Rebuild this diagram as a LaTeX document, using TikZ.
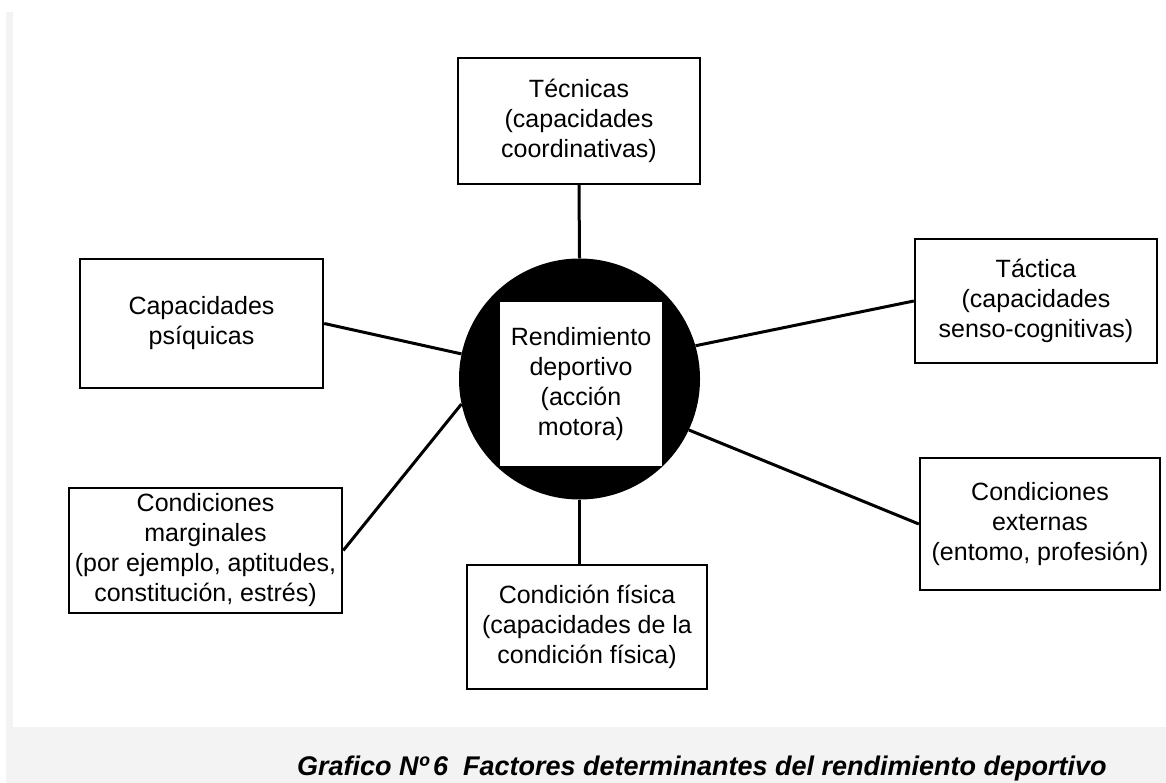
\documentclass[tikz,border=0pt]{standalone}
\usepackage{fontspec}
\setmainfont{Liberation Sans}
\usetikzlibrary{positioning}

\begin{document}
\begin{tikzpicture}[x=1pt,y=-1pt]
	\tikzstyle{factor} = [draw=black,line width=2.4pt,fill=white,align=center,inner sep=0pt,font=\fontsize{25}{30}\selectfont]
	\tikzstyle{link} = [line width=3pt]
	\definecolor{marco}{RGB}{243,243,243}
	% page
	\useasboundingbox (0,0) rectangle (1166,783);
	\fill[white] (0,0) rectangle (1166,783);
	\fill[marco] (6,12) rectangle (13,727);
	\fill[marco] (6,727) rectangle (1166,783);
	% centre
	\node[circle,fill=black,minimum size=241pt,inner sep=0pt] (rend) at (579.5,379) {};
	\node[factor,draw=none,minimum width=162pt,minimum height=164pt] (rendbox) at (581,384) {Rendimiento\\deportivo\\(acción\\motora)};
	% factors
	\node[factor,minimum width=242pt,minimum height=126pt] (tec) at (579,121) {Técnicas\\(capacidades\\coordinativas)};
	\node[factor,minimum width=243pt,minimum height=129pt] (psi) at (201.5,323.5) {Capacidades\\psíquicas};
	\node[factor,minimum width=242pt,minimum height=124pt] (tac) at (1036,301) {Táctica\\(capacidades\\senso-cognitivas)};
	\node[factor,minimum width=273pt,minimum height=125pt] (mar) at (205.5,550.5) {Condiciones\\marginales\\(por ejemplo, aptitudes,\\constitución, estrés)};
	\node[factor,minimum width=240pt,minimum height=132pt] (ext) at (1040,524) {Condiciones\\externas\\(entomo, profesión)};
	\node[factor,minimum width=240pt,minimum height=124pt] (fis) at (587,627) {Condición física\\(capacidades de la\\condición física)};
	% connections
	\draw[link] (tec.south) -- (rend.north);
	\draw[link] (rend.south) -- (rend.south |- fis.north);
	\foreach \n/\s/\a in {psi/east/168, mar/east/192, tac/west/16, ext/west/-25}
		\draw[link] (\n.\s) -- (rend.\a);
	% caption
	\node[anchor=base west,inner sep=0pt,font=\fontsize{27}{30}\selectfont\bfseries\itshape] (titulo) at (297,775) {Grafico Nº\,6~~Factores determinantes del rendimiento deportivo};
\end{tikzpicture}
\end{document}
